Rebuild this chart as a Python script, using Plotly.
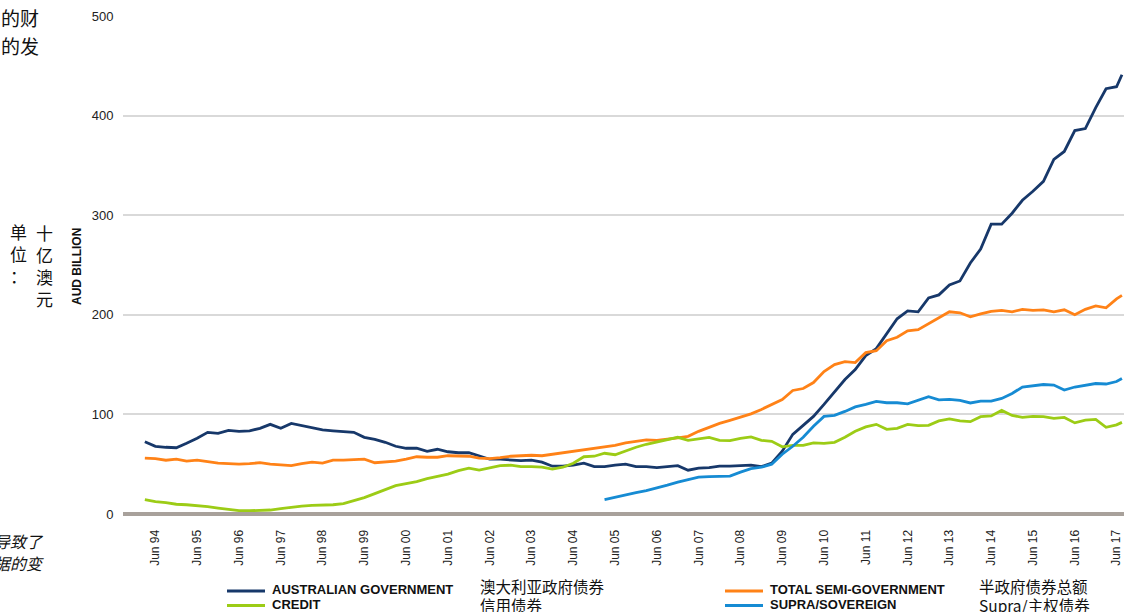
import plotly.graph_objects as go

# ---------------- data (quarterly readings, AUD billion) ----------------
dates = [f"{y}-{m:02d}-15" for y in range(1994, 2018) for m in (3, 6, 9, 12)][:94] + ["2017-08-01"]

aus_gov = [72.5, 68, 67, 66.5,
           71, 76, 82, 81,
           84, 83, 83.5, 86,
           90, 86, 91, 89,
           87, 84.5, 83.5, 83,
           82, 77, 75, 72,
           68, 66, 66, 63,
           65, 62.5, 61.5, 61.5,
           58, 55, 55, 54,
           53.5, 54, 52, 48,
           48, 49, 51, 47.5,
           47.5, 49, 50, 47.5,
           47.5, 46.5, 47.5, 48.5,
           44, 46, 46.5, 48,
           48, 48.5, 49, 47.5,
           51, 63, 80, 89,
           98, 110, 123, 135,
           145, 159, 166, 181,
           196, 204, 203, 217,
           220, 230, 234, 252,
           266, 291, 291, 302,
           315, 324, 334, 356,
           364, 385, 387, 408,
           427, 429, 441]

semi_gov = [56, 55.5, 54, 55,
            53, 54, 52.5, 51,
            50.5, 50, 50.5, 51.5,
            50, 49.5, 48.5, 50.5,
            52, 51, 54, 54,
            54.5, 55, 51.5, 52,
            53, 55, 57.5, 57,
            57, 58.5, 58, 58,
            56, 55.5, 56.5, 58,
            58.5, 59, 58.5, 60,
            61.5, 62.5, 64.5, 66,
            67, 69, 71.5, 73,
            74.5, 74, 75, 76.5,
            78, 83, 87, 91,
            94, 97, 100.5, 105,
            110, 115, 124, 126,
            132, 143, 150, 153,
            152, 162, 164, 174,
            177.5, 184, 185, 191,
            197.5, 203, 202, 198,
            201, 203.5, 204.5, 203,
            205.5, 204.5, 205, 203,
            205, 200, 205.5, 209,
            207, 216, 219.5]

credit = [14.5, 12.5, 11.5, 9.8,
          9.3, 8.5, 7.4, 6,
          4.5, 3.3, 3.3, 3.3,
          4, 5.5, 7, 8,
          8.7, 9, 9.3, 10.5,
          13.5, 16.5, 20.5, 24.5,
          28.5, 30.5, 32.5, 35.5,
          37.5, 40, 43.5, 46,
          44, 46, 48.5, 49,
          47.5, 47.5, 47, 45,
          47, 51, 57.5, 58,
          61, 59.5, 63.5, 67,
          70, 72.5, 74.5, 77,
          74, 75.5, 77, 74,
          73.6, 76, 77.5, 74,
          73, 67.5, 69, 69,
          71.5, 71, 72, 77,
          83, 87.5, 90, 85,
          86, 90, 88.7, 89,
          93.5, 95.5, 93.5, 92.7,
          97.7, 98.5, 104, 99,
          97, 98, 97.7, 96,
          97, 91.5, 94.3, 95,
          87, 89.5, 92]

supra = [None] * 44 + [14.5, 17, 19, 21.5,
                       23.5, 26, 29, 32,
                       34.5, 37, 37.5, 37.5,
                       38, 42, 45.5, 47,
                       50, 60, 68, 77,
                       88, 98, 99, 103,
                       107.5, 110, 113, 111.7,
                       111.7, 110.5, 114, 117.7,
                       114.5, 115, 114, 111.5,
                       113.3, 113.3, 116, 121,
                       127.5, 129, 130, 129.5,
                       124.5, 127.5, 129.3, 131,
                       130.5, 133, 136]

for s in (aus_gov, semi_gov, credit, supra):
    assert len(s) == len(dates), len(s)

tick_dates = [f"{y}-06-15" for y in range(1994, 2018)]
tick_text = [f"Jun {y % 100:02d}" for y in range(1994, 2018)]
y_ticks = [0, 100, 200, 300, 400, 500]

series_names = ["AUSTRALIAN GOVERNMENT", "TOTAL SEMI-GOVERNMENT", "CREDIT", "SUPRA/SOVEREIGN"]
series_cn = ["澳大利亚政府债券", "半政府债券总额", "信用债券", "Supra/主权债券"]
series_vals = [aus_gov, semi_gov, credit, supra]
series_colors = ["#17386a", "#ff8217", "#9ccc16", "#168bd3"]

# ---------------- figure ----------------
W, H = 1124, 612
L, R, T, B = 123, 0, 16, 98
pw, ph = W - L - R, H - T - B

def px(x):
    return (x - L) / pw

def py(y):
    return (H - B - y) / ph

fig = go.Figure()
for name, vals, col in zip(series_names, series_vals, series_colors):
    fig.add_trace(go.Scatter(x=dates, y=vals, name=name, mode="lines",
                             line=dict(color=col, width=2.8), connectgaps=False,
                             showlegend=False))

cjk = "Noto Sans CJK SC"
ann = []
shapes = []

def add_text(x, y, text, font, xanchor="center", yanchor="middle", **kw):
    ann.append(dict(xref="paper", yref="paper", x=px(x), y=py(y), text=text,
                    xanchor=xanchor, yanchor=yanchor, showarrow=False, font=font, **kw))

# y-axis title
add_text(77, 267, "AUD BILLION",
         dict(family="Liberation Sans Narrow, Liberation Sans", size=12, color="#111", weight="bold"),
         textangle=-90)
add_text(18, 254, "单<br>位<br>：", dict(family=cjk, size=17, color="#111"))
add_text(44, 265, "十<br>亿<br>澳<br>元", dict(family=cjk, size=17, color="#111"))
# surrounding (clipped) text from the source page
add_text(41, 17, "的财", dict(family=cjk, size=19, color="#111"), xanchor="right")
add_text(41, 46, "的发", dict(family=cjk, size=19, color="#111"), xanchor="right")
add_text(46, 541, "<i>导致了</i>", dict(family=cjk, size=16, color="#111"), xanchor="right")
add_text(46, 563, "<i>据的变</i>", dict(family=cjk, size=16, color="#111"), xanchor="right")

# manual legend (2 columns x 2 rows)
leg_pos = [(227, 591), (725, 591), (227, 605.5), (725, 605.5)]
cn_pos = [(478, 586), (977, 586), (478, 604.5), (977, 605)]
for (lx, ly), (cx, cy), name, cn, col in zip(leg_pos, cn_pos, series_names, series_cn, series_colors):
    shapes.append(dict(type="line", xref="paper", yref="paper",
                       x0=px(lx), x1=px(lx + 38), y0=py(ly), y1=py(ly),
                       line=dict(color=col, width=3)))
    add_text(lx + 43, ly - 1.5, name,
             dict(family="Liberation Sans", size=13, color="#111", weight="bold"), xanchor="left")
    add_text(cx, cy, cn, dict(family=cjk, size=15.5, color="#111"), xanchor="left")

fig.update_layout(
    width=W, height=H, autosize=False,
    margin=dict(l=L, r=R, t=T, b=B, autoexpand=False),
    paper_bgcolor="white", plot_bgcolor="white",
    annotations=ann, shapes=shapes,
    showlegend=False,
    xaxis=dict(type="date", range=["1993-09-05", "2017-08-19"],
               tickvals=tick_dates, ticktext=tick_text, tickangle=-90,
               showgrid=False, zeroline=False, showline=False, automargin=False,
               ticklabeloverflow="allow",
               ticks="outside", ticklen=10, tickcolor="rgba(0,0,0,0)",
               tickfont=dict(family="Liberation Sans Narrow, Liberation Sans", size=12, color="#222")),
    yaxis=dict(range=[0, 500], tickvals=y_ticks, showgrid=True, gridcolor="#d9d9d9", gridwidth=1.5,
               zeroline=True, zerolinecolor="#a8a19b", zerolinewidth=4, showline=False,
               automargin=False,
               ticks="outside", ticklen=6, tickcolor="rgba(0,0,0,0)",
               tickfont=dict(family="Liberation Sans", size=13, color="#222")),
)

fig.write_html("out.html", config={"displayModeBar": False},
               post_script="document.body.style.margin='0';document.body.style.overflow='hidden';")
